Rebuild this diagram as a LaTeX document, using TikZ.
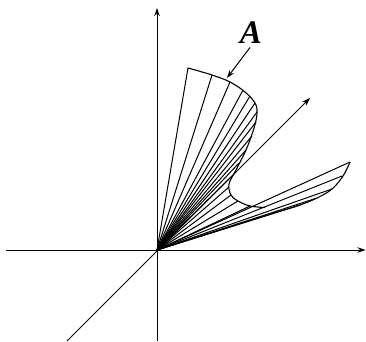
\documentclass[tikz,border=0pt]{standalone}
\usepackage{fontspec}
\setmainfont{Liberation Serif}
\usetikzlibrary{arrows.meta}
\begin{document}
\begin{tikzpicture}[x=1pt,y=-1pt,
  axisline/.style={line width=1pt,-{Stealth[length=8pt,width=5.5pt]}},
  fanline/.style={line width=1pt},
  edgeline/.style={line width=1.1pt}]
\useasboundingbox (0,0) rectangle (366,341);
\coordinate (O) at (157,250);
\coordinate (ytop) at (157,8);
\coordinate (ybot) at (157,341);
\coordinate (xleft) at (6,250);
\coordinate (xright) at (365.5,250);
\coordinate (zbot) at (67,341);
\coordinate (ztop) at (310,98);
\draw[axisline] (ybot) -- (ytop);
\draw[axisline] (xleft) -- (xright);
\draw[axisline] (zbot) -- (ztop);
% fan lines
\foreach \p in {(188,68),(212,75),(230,82),(243,90),(250,96),(255,103),(257,112),(256,122),(252,136),(246,150),(239,163),(233,175),(229,187),(231,195),(238,201),(250,206),(350,162),(342,176),(332,189),(317,198),(300,205),(284,210)}{
  \draw[fanline] (O) -- \p;
}
% directrix
\draw[edgeline] plot[smooth,tension=0.6] coordinates {(188,68) (212,75) (230,82) (245,92) (255,103) (257,113) (254,128) (246,150) (236,170) (229,184) (231,195) (238,201) (250,206) (265,207.5)};
\draw[edgeline] plot[smooth,tension=0.6] coordinates {(350,162) (343,176) (332,189) (317,198) (300,205) (284,210)};
% label
\node[font=\fontsize{33}{36}\selectfont\bfseries\itshape] (A) at (251,33) {A};
\coordinate (Atip) at (227,78);
\draw[line width=1pt,-{Stealth[length=8pt,width=5.5pt]}] (A.south) ++(-1,0) -- (Atip);
\end{tikzpicture}
\end{document}
